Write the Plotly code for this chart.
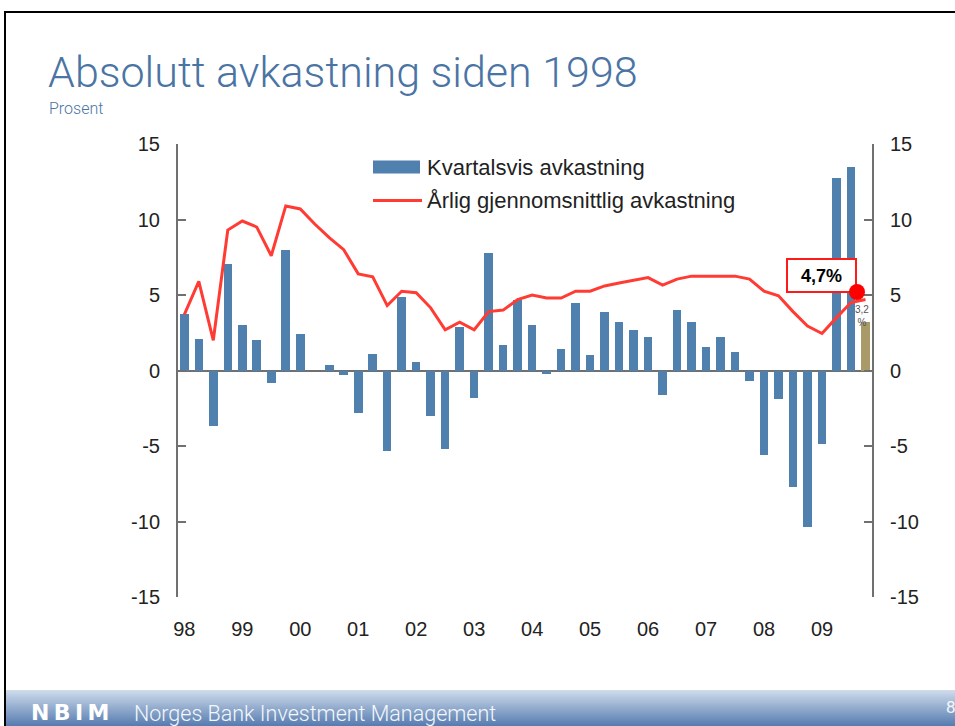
import plotly.graph_objects as go

# ---------------- data ----------------
years = list(range(1998, 2010))
year_labels = ["98", "99", "00", "01", "02", "03", "04", "05", "06", "07", "08", "09"]
quarters = [f"{y}K{q}" for y in years for q in range(1, 5)]

quarterly_return = [
    3.75, 2.1, -3.7, 7.05, 3.0, 2.0, -0.85, 8.0, 2.45, 0.0, 0.35, -0.3,
    -2.8, 1.1, -5.3, 4.85, 0.57, -3.0, -5.2, 2.9, -1.8, 7.8, 1.7, 4.65,
    3.0, -0.2, 1.45, 4.5, 1.0, 3.85, 3.2, 2.65, 2.2, -1.6, 4.0, 3.2,
    1.55, 2.2, 1.25, -0.7, -5.6, -1.9, -7.7, -10.35, -4.9, 12.75, 13.5, 3.2,
]
annual_avg_return = [
    3.7, 5.9, 2.0, 9.3, 9.9, 9.5, 7.6, 10.9, 10.7, 9.7, 8.8, 8.0,
    6.4, 6.2, 4.3, 5.25, 5.15, 4.15, 2.7, 3.2, 2.7, 3.9, 4.0, 4.7,
    5.0, 4.8, 4.8, 5.25, 5.25, 5.6, 5.8, 6.0, 6.15, 5.65, 6.05, 6.25,
    6.25, 6.25, 6.25, 6.05, 5.25, 4.95, 3.9, 2.95, 2.45, 3.5, 4.5, 4.7,
]
y_ticks = [-15, -10, -5, 0, 5, 10, 15]

series_names = ["Kvartalsvis avkastning", "Årlig gjennomsnittlig avkastning"]
title_text = "Absolutt avkastning siden 1998"
subtitle_text = "Prosent"

# ---------------- style ----------------
W, H = 955, 726
L, R, T, B = 178, 872, 144, 597          # plot area in pixels
BLUE = "#5080ae"
GOLD = "#a99a68"
RED = "#ff3b33"
TITLE_BLUE = "#4a74a4"
AXIS = "#707070"
FONT = "Liberation Sans, Arial, sans-serif"
NARROW = "Liberation Sans Narrow, Arial Narrow, Roboto, sans-serif"


def px(x):
    return (x - L) / (R - L)


def py(y):
    return (B - y) / (B - T)


bar_colors = [BLUE] * (len(quarterly_return) - 1) + [GOLD]

fig = go.Figure()
fig.add_trace(go.Bar(
    x=quarters, y=quarterly_return, marker=dict(color=bar_colors, line=dict(width=0)),
    width=0.59, name=series_names[0], showlegend=False,
))
fig.add_trace(go.Scatter(
    x=quarters, y=annual_avg_return, mode="lines", yaxis="y2",
    line=dict(color=RED, width=3), name=series_names[1], showlegend=False,
))

n = len(quarters)
fig.update_layout(
    width=W, height=H,
    margin=dict(l=L, r=W - R, t=T, b=H - B, pad=0),
    paper_bgcolor="white", plot_bgcolor="white",
    bargap=0, showlegend=False,
    font=dict(family=FONT, color="#222222"),
    xaxis=dict(
        type="category", range=[-0.435, n - 1 + 0.45],
        tickvals=quarters[::4], ticktext=year_labels,
        ticks="", showline=False, showgrid=False, zeroline=False,
        tickfont=dict(size=20, color="#222222"), ticklabelstandoff=18,
    ),
    yaxis=dict(
        range=[-15, 15], tickvals=y_ticks, ticktext=[str(v) for v in y_ticks],
        showgrid=False, zeroline=True, zerolinecolor=AXIS, zerolinewidth=2,
        showline=True, linecolor=AXIS, linewidth=2,
        ticks="inside", ticklen=8, tickwidth=2, tickcolor=AXIS,
        tickfont=dict(size=20, color="#222222"), ticklabelstandoff=12,
    ),
    yaxis2=dict(
        range=[-15, 15], tickvals=y_ticks, ticktext=[str(v) for v in y_ticks],
        overlaying="y", side="right",
        showgrid=False, zeroline=False,
        showline=True, linecolor=AXIS, linewidth=2,
        ticks="inside", ticklen=8, tickwidth=2, tickcolor=AXIS,
        tickfont=dict(size=20, color="#222222"), ticklabelstandoff=12,
    ),
)

shapes = []
annotations = []

# slide frame
shapes.append(dict(type="line", xref="paper", yref="paper", x0=px(4), x1=px(W + 2), y0=py(12), y1=py(12),
                   line=dict(color="black", width=2)))
shapes.append(dict(type="line", xref="paper", yref="paper", x0=px(5), x1=px(5), y0=py(12), y1=py(H + 2),
                   line=dict(color="black", width=2)))

# footer gradient band
top_c = (206, 219, 235)
bot_c = (84, 122, 174)
band_top, band_bot = 690, 727
steps = 37
for i in range(steps):
    t = i / (steps - 1)
    c = tuple(int(round(top_c[k] + (bot_c[k] - top_c[k]) * t)) for k in range(3))
    y0 = band_top + (band_bot - band_top) * i / steps
    y1 = band_top + (band_bot - band_top) * (i + 1) / steps
    shapes.append(dict(type="rect", xref="paper", yref="paper", x0=px(6), x1=px(W + 2),
                       y0=py(y1 + 0.3), y1=py(y0), fillcolor=f"rgb{c}", line=dict(width=0), layer="below"))

thin = "\u2009"
annotations.append(dict(text=f"<b>N{thin}B{thin}I{thin}M</b>", xref="paper", yref="paper", x=px(29), y=py(712),
                        xanchor="left", yanchor="middle", showarrow=False,
                        font=dict(family="DejaVu Sans, sans-serif", size=22, color="white")))
annotations.append(dict(text="Norges Bank Investment Management", xref="paper", yref="paper", x=px(132), y=py(713),
                        xanchor="left", yanchor="middle", showarrow=False,
                        font=dict(family=NARROW, size=21.5, color="#f4f7fb", weight=300)))
annotations.append(dict(text="8", xref="paper", yref="paper", x=px(944), y=py(707),
                        xanchor="left", yanchor="middle", showarrow=False,
                        font=dict(family=NARROW, size=17, color="#f4f7fb")))

# title + subtitle
annotations.append(dict(text=title_text, xref="paper", yref="paper", x=px(46), y=py(72),
                        xanchor="left", yanchor="middle", showarrow=False,
                        font=dict(family="Roboto, sans-serif", size=43, color=TITLE_BLUE, weight=300)))
annotations.append(dict(text=subtitle_text, xref="paper", yref="paper", x=px(47), y=py(108),
                        xanchor="left", yanchor="middle", showarrow=False,
                        font=dict(family="Roboto, sans-serif", size=16, color=TITLE_BLUE, weight=300)))

# custom legend
shapes.append(dict(type="rect", xref="paper", yref="paper", x0=px(373), x1=px(420), y0=py(173.5), y1=py(160.5),
                   fillcolor=BLUE, line=dict(width=0)))
shapes.append(dict(type="line", xref="paper", yref="paper", x0=px(373), x1=px(422), y0=py(200.5), y1=py(200.5),
                   line=dict(color=RED, width=3)))
annotations.append(dict(text=series_names[0], xref="paper", yref="paper", x=px(425), y=py(167),
                        xanchor="left", yanchor="middle", showarrow=False,
                        font=dict(family=FONT, size=22, color="#222222")))
annotations.append(dict(text=series_names[1], xref="paper", yref="paper", x=px(425), y=py(200),
                        xanchor="left", yanchor="middle", showarrow=False,
                        font=dict(family=FONT, size=22, color="#222222")))

# highlight of latest annual average
last_val = annual_avg_return[-1]
label = f"{last_val:.1f}%".replace(".", ",")
shapes.append(dict(type="rect", xref="paper", yref="paper", x0=px(787), x1=px(856), y0=py(292), y1=py(259),
                   fillcolor="white", line=dict(color="#ff1a1a", width=2)))
annotations.append(dict(text=f"<b>{label}</b>", xref="paper", yref="paper", x=px(821.5), y=py(275.5),
                        xanchor="center", yanchor="middle", showarrow=False,
                        font=dict(family=FONT, size=18, color="black")))
shapes.append(dict(type="circle", xref="paper", yref="paper", x0=px(849), x1=px(865), y0=py(300), y1=py(284),
                   fillcolor="#ff0000", line=dict(width=0)))
last_bar = f"{quarterly_return[-1]:.1f}".replace(".", ",")
annotations.append(dict(text=f"{last_bar}<br>%", xref="paper", yref="paper", x=px(862), y=py(316),
                        xanchor="center", yanchor="middle", showarrow=False,
                        font=dict(family=FONT, size=10, color="#555555")))

fig.update_layout(shapes=shapes, annotations=annotations)
fig.write_html(
    "out.html",
    config={"displayModeBar": False},
    post_script="document.body.style.margin='0';document.body.style.overflow='hidden';",
)
